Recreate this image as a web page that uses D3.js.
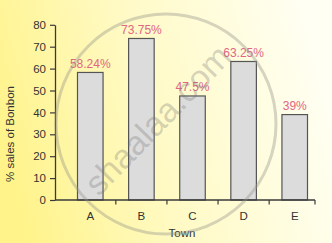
<!DOCTYPE html>
<html>
<head>
<meta charset="utf-8">
<script src="https://cdn.jsdelivr.net/npm/d3@7"></script>
<style>
  html, body { margin: 0; padding: 0; }
  body { width: 332px; height: 243px; overflow: hidden; }
  text { font-family: "Liberation Sans", Arial, sans-serif; }
</style>
</head>
<body>
<svg id="chart" width="332" height="243"></svg>
<script>
const towns = ["A", "B", "C", "D", "E"];
const sales = [58.24, 73.75, 47.5, 63.25, 39];
const valueLabels = ["58.24%", "73.75%", "47.5%", "63.25%", "39%"];
const yTicks = [0, 10, 20, 30, 40, 50, 60, 70, 80];
const xTitle = "Town";
const yTitle = "% sales of Bonbon";

const svg = d3.select("#chart");

// background gradient
const defs = svg.append("defs");
const grad = defs.append("linearGradient").attr("id", "bg")
  .attr("x1", "0").attr("y1", "0.6").attr("x2", "1").attr("y2", "0.4");
grad.append("stop").attr("offset", "0").attr("stop-color", "#fff38a");
grad.append("stop").attr("offset", "0.45").attr("stop-color", "#fffac4");
grad.append("stop").attr("offset", "1").attr("stop-color", "#fffff4");
svg.append("rect").attr("width", 332).attr("height", 243).attr("fill", "url(#bg)");

const axisColor = "#3a3a3a";
const xAxisStart = 55, xAxisEnd = 315;
const y = d3.scaleLinear().domain([0, 80]).range([200, 24.8]);
const x = d3.scaleBand().domain(towns).range([54.5, 330.5])
  .paddingInner(0.5).paddingOuter(0.45);

// bars
svg.append("g").selectAll("rect").data(towns).join("rect")
  .attr("x", d => x(d))
  .attr("y", (d, i) => y(sales[i]))
  .attr("width", x.bandwidth())
  .attr("height", (d, i) => y(0) - y(sales[i]))
  .attr("fill", "#dcdcdc")
  .attr("stroke", "#555")
  .attr("stroke-width", 1.2);

// value labels
svg.append("g").selectAll("text").data(towns).join("text")
  .attr("x", d => x(d) + x.bandwidth() / 2)
  .attr("y", (d, i) => y(sales[i]) - 4.5)
  .attr("text-anchor", "middle")
  .attr("font-size", 12)
  .attr("fill", "#e06684")
  .text((d, i) => valueLabels[i]);

// y axis
const yAxis = svg.append("g").attr("transform", `translate(${xAxisStart},0)`)
  .call(d3.axisLeft(y).tickValues(yTicks).tickSize(5).tickPadding(4).tickSizeOuter(0));
yAxis.select(".domain").attr("stroke", axisColor).attr("stroke-width", 1.3);
yAxis.selectAll(".tick line").attr("stroke", axisColor).attr("stroke-width", 1.2);
yAxis.selectAll(".tick text").attr("fill", "#333").attr("font-size", 11.5)
  .attr("font-family", "Liberation Sans, Arial, sans-serif");

// x axis line
svg.append("line").attr("x1", xAxisStart).attr("x2", xAxisEnd)
  .attr("y1", y(0)).attr("y2", y(0))
  .attr("stroke", axisColor).attr("stroke-width", 1.3);
// x ticks between bands and at axis end
const step = x.step();
const boundaries = towns.slice(0, -1).map(d => x(d) + x.bandwidth() + step * x.paddingInner() / 2);
boundaries.push(xAxisEnd);
svg.append("g").selectAll("line").data(boundaries).join("line")
  .attr("x1", d => d).attr("x2", d => d)
  .attr("y1", y(0)).attr("y2", y(0) + 4.5)
  .attr("stroke", axisColor).attr("stroke-width", 1.2);
// x labels
svg.append("g").selectAll("text").data(towns).join("text")
  .attr("x", d => x(d) + x.bandwidth() / 2)
  .attr("y", 219.5)
  .attr("text-anchor", "middle")
  .attr("font-size", 11.5)
  .attr("fill", "#333")
  .text(d => d);

// axis titles
svg.append("text").attr("x", 182).attr("y", 237)
  .attr("text-anchor", "middle").attr("font-size", 11.5).attr("fill", "#333")
  .text(xTitle);
svg.append("text")
  .attr("transform", "translate(14,134) rotate(-90)")
  .attr("text-anchor", "middle").attr("font-size", 11.5).attr("fill", "#333")
  .text(yTitle);

// watermark
svg.append("circle").attr("cx", 166).attr("cy", 124).attr("r", 110)
  .attr("fill", "none").attr("stroke", "rgba(150,150,140,0.4)").attr("stroke-width", 3);
svg.append("text")
  .attr("transform", "translate(166,128) rotate(-46)")
  .attr("text-anchor", "middle").attr("font-size", 34)
  .attr("fill", "rgba(110,110,110,0.3)")
  .text("shaalaa.com");
</script>
</body>
</html>
